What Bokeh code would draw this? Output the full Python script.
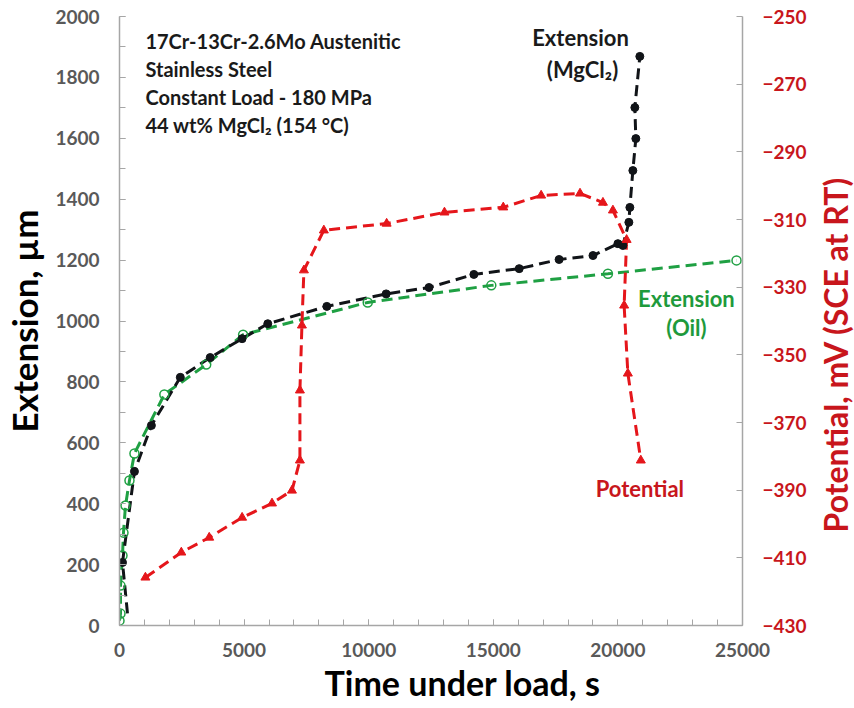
import math
from bokeh.plotting import figure
from bokeh.layouts import row
from bokeh.models import Range1d, LinearAxis, SingleIntervalTicker, FixedTicker, Label, Title
from bokeh.embed import file_html
from bokeh.resources import INLINE

# Extension in MgCl2 (time s, extension um)
mg_t = [320, 120, 600, 1280, 2440, 3640, 4920, 5950, 8320, 10700, 12420, 14220, 16040,
        17640, 19000, 20000, 20200, 20440, 20480, 20600, 20720, 20680, 20880]
mg_e = [40, 207, 506, 657, 815, 880, 942, 991, 1048, 1089, 1110, 1153, 1172,
        1202, 1215, 1254, 1248, 1324, 1373, 1494, 1599, 1701, 1869]

# Extension in oil
oil_t = [0, 40, 40, 120, 160, 240, 400, 600, 1800, 3480, 4960, 9960, 14920, 19600, 24760]
oil_e = [16, 39, 131, 230, 305, 394, 476, 565, 759, 857, 955, 1061, 1117, 1155, 1199]

# Potential (mV SCE at RT)
pot_t = [1040, 2480, 3600, 4920, 6120, 6920, 7240, 7240, 7320, 7400, 8200, 10720, 13040,
         15400, 16920, 18480, 19400, 19800, 20350, 20250, 20400, 20920]
pot_v = [-415.8, -408.4, -404.0, -398.1, -393.9, -390.1, -381.2, -360.5, -341.3, -325.0,
         -313.2, -311.2, -307.9, -306.4, -302.9, -302.3, -305.0, -307.3, -316.0, -335.4,
         -355.5, -381.2]

pot_ticks = [-430, -410, -390, -370, -350, -330, -310, -290, -270, -250]

FONT = "Lato"
GRAY = "#595959"
AXC = "#a6a6a6"
BLACK = "#111418"
GREEN = "#1fa043"
RED = "#e5161b"
RED_T = "#c8161c"

p = figure(width=816, height=708, x_range=Range1d(0, 25000), y_range=Range1d(0, 2000),
           output_backend="svg", toolbar_location=None,
           min_border_left=117, min_border_right=74, min_border_top=16, min_border_bottom=83)
p.outline_line_color = None
p.grid.visible = False
p.extra_y_ranges = {"pot": Range1d(-430, -250)}

xa = p.xaxis[0]
xa.ticker = SingleIntervalTicker(interval=5000, num_minor_ticks=5)
ya = p.yaxis[0]
ya.ticker = SingleIntervalTicker(interval=200, num_minor_ticks=2)

ra = LinearAxis(y_range_name="pot", ticker=FixedTicker(ticks=pot_ticks))
p.add_layout(ra, "right")

for ax in (xa, ya, ra):
    ax.axis_line_color = AXC
    ax.axis_line_width = 1.5
    ax.major_tick_line_color = AXC
    ax.minor_tick_line_color = AXC
    ax.major_tick_in = 6
    ax.major_tick_out = 0
    ax.minor_tick_in = 6
    ax.minor_tick_out = 0
    ax.major_label_text_font = FONT
    ax.major_label_text_font_style = "bold"
    ax.major_label_text_font_size = "19px"
    ax.major_label_text_color = GRAY
    ax.major_label_standoff = 20
    ax.axis_label_text_font = FONT
    ax.axis_label_text_font_style = "bold"
    ax.axis_label_text_color = "black"

xa.major_label_standoff = 17

ya.axis_label = "Extension, µm"
ya.axis_label_text_font_size = "35px"
ya.axis_label_standoff = 7

ra.major_label_text_color = RED_T
ra.minor_tick_line_color = None

# x-axis title, shifted right as in the original
p.add_layout(Title(text="Time under load, s", align="left", offset=205, standoff=0,
                   text_font=FONT, text_font_style="bold", text_font_size="34px",
                   text_color="black"), "below")

# lines
p.line(oil_t, oil_e, line_color=GREEN, line_width=3, line_dash="11 6")
p.line(mg_t, mg_e, line_color=BLACK, line_width=3, line_dash="11 6")
p.line(pot_t, pot_v, line_color=RED, line_width=3, line_dash="11 6", y_range_name="pot")

# markers (the first MgCl2 reading is only the start of the line)
p.scatter(oil_t, oil_e, marker="circle", size=9, fill_color="white", fill_alpha=0.0,
          line_color=GREEN, line_width=1.5)
p.scatter(mg_t[1:], mg_e[1:], marker="circle", size=8, fill_color=BLACK, line_color=BLACK)
p.scatter(pot_t, pot_v, marker="triangle", size=9, fill_color=RED, line_color=RED,
          y_range_name="pot")

# annotations
info = ["17Cr-13Cr-2.6Mo Austenitic", "Stainless Steel", "Constant Load - 180 MPa",
        "44 wt% MgCl\u2082 (154 \u00b0C)"]
info_y = [1918, 1826, 1737, 1645]
for txt, yy in zip(info, info_y):
    p.add_layout(Label(x=1040, y=yy, text=txt, text_font=FONT, text_font_style="bold",
                       text_font_size="20px", text_color="#1a1a1a", text_baseline="middle"))

def lab(x, y, txt, color, size="22px"):
    p.add_layout(Label(x=x, y=y, text=txt, text_font=FONT, text_font_style="bold",
                       text_font_size=size, text_color=color, text_align="center",
                       text_baseline="middle"))

lab(18500, 1931, "Extension", "#1a1a1a")
lab(18580, 1826, "(MgCl\u2082)", "#1a1a1a")
lab(22750, 1074, "Extension", "#1e9a3c")
lab(22750, 979, "(Oil)", "#1e9a3c")
lab(20880, 450, "Potential", RED_T)

# right-hand axis title panel (reads bottom-to-top)
p2 = figure(width=38, height=708, x_range=Range1d(0, 1), y_range=Range1d(0, 1),
            output_backend="svg", toolbar_location=None,
            x_axis_location=None, y_axis_location=None,
            min_border_left=0, min_border_right=0, min_border_top=0, min_border_bottom=0)
p2.outline_line_color = None
p2.grid.visible = False
p2.add_layout(Label(x=0.5, y=0.445, text="Potential, mV (SCE at RT)", text_font=FONT,
                    text_font_style="bold", text_font_size="32px", text_color=RED_T,
                    text_align="center", text_baseline="middle", angle=math.pi / 2))

layout = row(p, p2, spacing=0)
open("out.html", "w").write(file_html(layout, INLINE))
